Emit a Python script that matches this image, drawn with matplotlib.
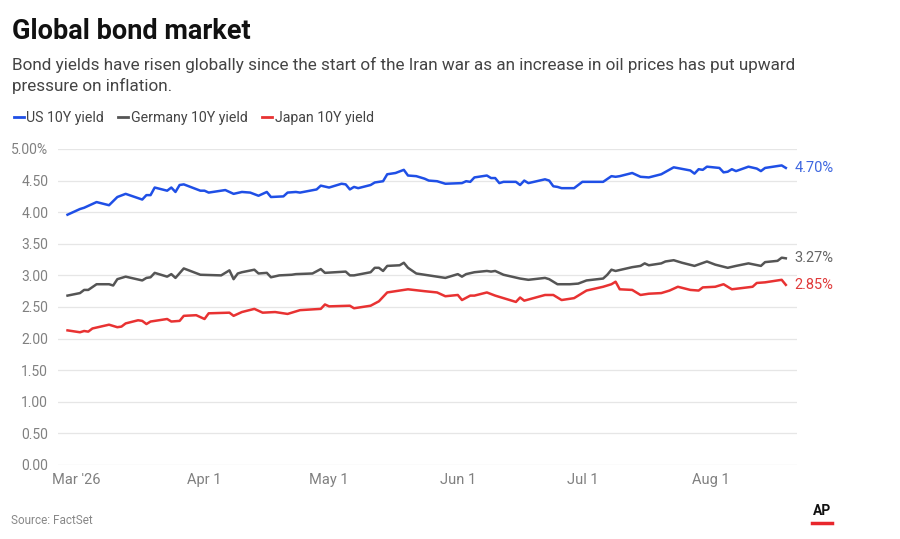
import matplotlib
matplotlib.use("Agg")
import matplotlib.pyplot as plt
import pandas as pd
from matplotlib.lines import Line2D

# values (vertices of each line), 2026
us_dates = ['02-27', '03-02', '03-03', '03-06', '03-09', '03-11', '03-13', '03-17', '03-18', '03-19',
            '03-20', '03-23', '03-24', '03-25', '03-26', '03-27', '03-31', '04-01', '04-02', '04-06',
            '04-08', '04-10', '04-12', '04-14', '04-16', '04-17', '04-20', '04-21', '04-23', '04-24',
            '04-28', '04-29', '05-01', '05-04', '05-05', '05-06', '05-07', '05-08', '05-11', '05-12',
            '05-14', '05-15', '05-17', '05-19', '05-20', '05-22', '05-24', '05-25', '05-27', '05-29',
            '06-02', '06-03', '06-04', '06-05', '06-08', '06-09', '06-10', '06-11', '06-12', '06-15',
            '06-16', '06-17', '06-18', '06-22', '06-23', '06-24', '06-25', '06-26', '06-29', '07-01',
            '07-06', '07-08', '07-09', '07-10', '07-13', '07-15', '07-17', '07-20', '07-23', '07-27',
            '07-28', '07-29', '07-30', '07-31', '08-03', '08-04', '08-05', '08-06', '08-07', '08-10',
            '08-12', '08-13', '08-14', '08-18', '08-19']
us_10y = [3.96, 4.05, 4.07, 4.16, 4.11, 4.24, 4.29, 4.20, 4.27, 4.27,
          4.39, 4.34, 4.39, 4.32, 4.43, 4.44, 4.34, 4.34, 4.31, 4.35,
          4.29, 4.32, 4.31, 4.26, 4.32, 4.24, 4.25, 4.31, 4.32, 4.31,
          4.36, 4.42, 4.39, 4.45, 4.44, 4.36, 4.40, 4.38, 4.43, 4.47,
          4.49, 4.60, 4.62, 4.67, 4.58, 4.57, 4.53, 4.50, 4.49, 4.45,
          4.46, 4.49, 4.48, 4.55, 4.58, 4.54, 4.54, 4.46, 4.48, 4.48,
          4.43, 4.50, 4.46, 4.52, 4.50, 4.41, 4.40, 4.38, 4.38, 4.48,
          4.48, 4.57, 4.56, 4.57, 4.62, 4.56, 4.55, 4.60, 4.71, 4.66,
          4.61, 4.68, 4.67, 4.72, 4.70, 4.63, 4.64, 4.68, 4.65, 4.72,
          4.69, 4.65, 4.70, 4.74, 4.70]

de_dates = ['02-27', '03-02', '03-03', '03-04', '03-06', '03-09', '03-10', '03-11', '03-13', '03-17',
            '03-18', '03-19', '03-20', '03-23', '03-24', '03-25', '03-27', '03-31', '04-05', '04-07',
            '04-08', '04-09', '04-10', '04-13', '04-14', '04-16', '04-17', '04-19', '04-22', '04-23',
            '04-27', '04-29', '04-30', '05-05', '05-06', '05-07', '05-11', '05-12', '05-13', '05-14',
            '05-15', '05-18', '05-19', '05-20', '05-22', '05-24', '05-26', '05-29', '06-01', '06-02',
            '06-03', '06-05', '06-08', '06-09', '06-10', '06-12', '06-16', '06-18', '06-22', '06-23',
            '06-25', '06-28', '06-30', '07-02', '07-06', '07-07', '07-08', '07-09', '07-13', '07-15',
            '07-16', '07-17', '07-20', '07-21', '07-23', '07-25', '07-28', '07-31', '08-02', '08-05',
            '08-07', '08-10', '08-13', '08-14', '08-17', '08-18', '08-19']
germany_10y = [2.68, 2.72, 2.77, 2.77, 2.86, 2.86, 2.84, 2.94, 2.98, 2.92,
               2.96, 2.97, 3.04, 2.98, 3.02, 2.96, 3.11, 3.01, 3.00, 3.08,
               2.94, 3.03, 3.05, 3.09, 3.03, 3.04, 2.97, 3.00, 3.01, 3.02,
               3.03, 3.10, 3.04, 3.06, 3.00, 3.00, 3.05, 3.12, 3.12, 3.07,
               3.15, 3.16, 3.20, 3.12, 3.03, 3.01, 2.99, 2.96, 3.02, 2.98,
               3.02, 3.05, 3.07, 3.06, 3.07, 3.01, 2.95, 2.93, 2.96, 2.94,
               2.86, 2.86, 2.87, 2.92, 2.95, 3.01, 3.09, 3.07, 3.13, 3.15,
               3.19, 3.16, 3.19, 3.22, 3.24, 3.20, 3.15, 3.22, 3.17, 3.12,
               3.15, 3.19, 3.15, 3.21, 3.23, 3.28, 3.27]

jp_dates = ['02-27', '03-02', '03-03', '03-04', '03-05', '03-09', '03-11', '03-12', '03-13', '03-16',
            '03-17', '03-18', '03-19', '03-20', '03-23', '03-24', '03-26', '03-27', '03-30', '04-01',
            '04-02', '04-07', '04-08', '04-10', '04-13', '04-15', '04-18', '04-21', '04-24', '04-29',
            '04-30', '05-01', '05-06', '05-07', '05-11', '05-13', '05-15', '05-17', '05-20', '05-24',
            '05-27', '05-29', '06-01', '06-02', '06-04', '06-05', '06-08', '06-10', '06-15', '06-16',
            '06-17', '06-22', '06-24', '06-26', '06-29', '07-02', '07-06', '07-08', '07-09', '07-10',
            '07-13', '07-15', '07-17', '07-20', '07-22', '07-24', '07-27', '07-29', '07-30', '08-02',
            '08-04', '08-06', '08-11', '08-12', '08-14', '08-18', '08-19']
japan_10y = [2.13, 2.10, 2.12, 2.11, 2.16, 2.22, 2.18, 2.19, 2.24, 2.29,
             2.28, 2.23, 2.27, 2.28, 2.31, 2.27, 2.28, 2.36, 2.37, 2.31,
             2.40, 2.41, 2.36, 2.42, 2.47, 2.41, 2.42, 2.39, 2.45, 2.47,
             2.54, 2.51, 2.52, 2.48, 2.52, 2.59, 2.73, 2.75, 2.78, 2.75,
             2.73, 2.67, 2.69, 2.61, 2.68, 2.68, 2.73, 2.68, 2.58, 2.65,
             2.60, 2.69, 2.69, 2.61, 2.64, 2.76, 2.82, 2.86, 2.90, 2.78,
             2.77, 2.69, 2.71, 2.72, 2.76, 2.82, 2.77, 2.76, 2.81, 2.82,
             2.86, 2.78, 2.82, 2.88, 2.89, 2.93, 2.85]

series_names = ['US 10Y yield', 'Germany 10Y yield', 'Japan 10Y yield']
series_colors = ['#1f4fe6', '#555555', '#e83232']
label_colors = ['#3d66e0', '#666666', '#e03a3a']
y_ticks = [0, 0.5, 1, 1.5, 2, 2.5, 3, 3.5, 4, 4.5, 5]
x_ticks = ['2026-03-01', '2026-04-01', '2026-05-01', '2026-06-01', '2026-07-01', '2026-08-01']
x_ticklabels = ["Mar '26", 'Apr 1', 'May 1', 'Jun 1', 'Jul 1', 'Aug 1']

TEXT_FONT = ['Roboto', 'DejaVu Sans']
NARROW_FONT = ['Liberation Sans Narrow', 'Roboto', 'DejaVu Sans']
plt.rcParams['font.family'] = TEXT_FONT


def to_dates(days):
    return pd.to_datetime(['2026-' + d for d in days])


fig = plt.figure(figsize=(9, 5.39), dpi=100)
ax = fig.add_axes([0.0644, 0.1373, 0.8212, 0.5863])

all_series = [(to_dates(us_dates), us_10y), (to_dates(de_dates), germany_10y), (to_dates(jp_dates), japan_10y)]
for (dates, vals), color, lcolor in zip(all_series, series_colors, label_colors):
    ax.plot(dates, vals, color=color, lw=1.8, solid_joinstyle='round', zorder=3)
    ax.annotate(f'{vals[-1]:.2f}%', xy=(dates[-1], vals[-1]), xytext=(6, 0),
                textcoords='offset points', va='center', ha='left',
                color=lcolor, fontsize=10.5, annotation_clip=False)

mar1 = pd.Timestamp('2026-03-01')
ax.set_xlim(mar1 - pd.Timedelta(days=4.3), mar1 + pd.Timedelta(days=173.7))
ax.set_ylim(0, 5)

ax.set_yticks(y_ticks)
ax.set_yticklabels([f'{v:.2f}%' if v == 5 else f'{v:.2f}' for v in y_ticks])
ax.set_xticks(pd.to_datetime(x_ticks))
ax.set_xticklabels(x_ticklabels)

ax.grid(axis='y', color='#e6e6e6', lw=0.9)
ax.set_axisbelow(True)
for s in ax.spines.values():
    s.set_visible(False)
ax.tick_params(length=0, colors='#808080', labelsize=10)
ax.tick_params(axis='y', pad=7)
ax.tick_params(axis='x', pad=6)
for lab in ax.get_xticklabels():
    lab.set_family(NARROW_FONT)
    lab.set_fontsize(10.5)

# header
fig.text(0.013, 0.927, 'Global bond market', fontsize=19.5, fontweight='bold', color='#111111',
         va='baseline')
fig.text(0.013, 0.871, 'Bond yields have risen globally since the start of the Iran war as an increase in oil prices has put upward',
         fontsize=12.3, color='#444444', va='baseline')
fig.text(0.013, 0.831, 'pressure on inflation.', fontsize=12.3, color='#444444', va='baseline')

# legend
handles = [Line2D([], [], color=c, lw=2) for c in series_colors]
fig.legend(handles, series_names, loc='center left', bbox_to_anchor=(0.001, 0.782), ncol=3,
           frameon=False, fontsize=10.2, handlelength=0.7, handletextpad=0.2, columnspacing=1.0,
           labelcolor='#444444')

# footer
fig.text(0.012, 0.028, 'Source: FactSet', fontsize=8.5, color='#888888', family=NARROW_FONT)
fig.text(0.913, 0.045, 'AP', fontsize=10, fontweight='bold', color='#111111', ha='center',
         family=NARROW_FONT)
fig.add_artist(Line2D([0.902, 0.924], [0.030, 0.030], color='#e8262c', lw=2.5))

fig.savefig('out.png', dpi=100, facecolor='white')
